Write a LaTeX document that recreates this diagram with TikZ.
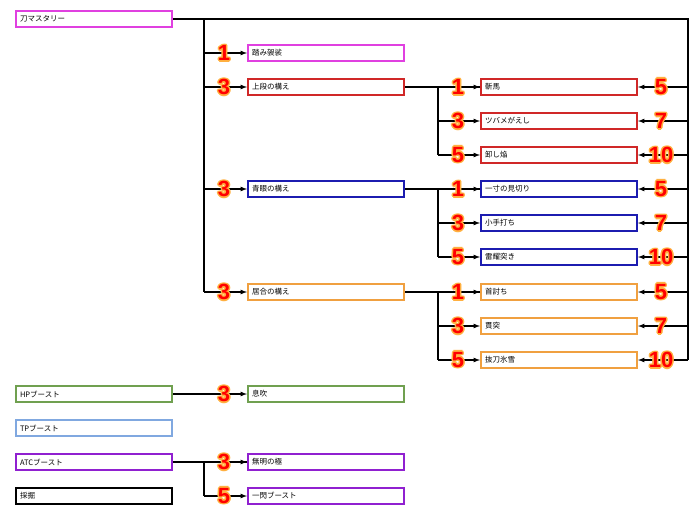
\documentclass[tikz,border=0pt]{standalone}
\usepackage{fontspec}
\setmainfont{Noto Sans CJK JP}
\newfontfamily\numfont{Liberation Sans}
\begin{document}
\begin{tikzpicture}[x=1pt,y=-1pt,
 box/.style={draw=#1,line width=2pt,minimum width=156pt,minimum height=16pt,text width=148pt,align=left,inner sep=3pt,font=\fontsize{7.5}{8}\selectfont,anchor=west,fill=white},
 arr/.style={-latex,line width=1.2pt},
 ln/.style={line width=1.2pt}]
\definecolor{cm}{HTML}{E040E0}\definecolor{cr}{HTML}{D02828}\definecolor{cb}{HTML}{1C1CB0}
\definecolor{co}{HTML}{F0A040}\definecolor{cg}{HTML}{70A050}\definecolor{cl}{HTML}{80A8E0}
\definecolor{cp}{HTML}{9020D0}\definecolor{nout}{HTML}{FFB040}
\newcommand\numat[2]{%
 \foreach \dx/\dy in {-1.5/0,1.5/0,0/-1.5,0/1.5,-1.1/-1.1,1.1/1.1,-1.1/1.1,1.1/-1.1}{\node[font=\numfont\bfseries\fontsize{22}{22}\selectfont,text=nout,inner sep=0] at ([shift={(\dx,\dy)}]#1) {#2};}%
 \node[font=\numfont\bfseries\fontsize{22}{22}\selectfont,text=red,inner sep=0] at (#1) {#2};}
\useasboundingbox (0,0) rectangle (700,519);
\node[box=cm] (root) at (15,19) {刀マスタリー};
\node[box=cm] (fumi) at (247,53) {踏み袈裟};
\node[box=cr] (jo) at (247,87) {上段の構え};
\node[box=cb] (sei) at (247,189) {青眼の構え};
\node[box=co] (iai) at (247,292) {居合の構え};
\node[box=cr] (a1) at (480,87) {斬馬};
\node[box=cr] (a2) at (480,121) {ツバメがえし};
\node[box=cr] (a3) at (480,155) {卸し焔};
\node[box=cb] (b1) at (480,189) {一寸の見切り};
\node[box=cb] (b2) at (480,223) {小手打ち};
\node[box=cb] (b3) at (480,257) {雷耀突き};
\node[box=co] (c1) at (480,292) {首討ち};
\node[box=co] (c2) at (480,326) {貫突};
\node[box=co] (c3) at (480,360) {抜刀氷雪};
\node[box=cg] (hp) at (15,394) {HPブースト};
\node[box=cl] (tp) at (15,428) {TPブースト};
\node[box=cp] (atc) at (15,462) {ATCブースト};
\node[box=black] (sai) at (15,496) {採掘};
\node[box=cg] (ibu) at (247,394) {息吹};
\node[box=cp] (mu) at (247,462) {無明の極};
\node[box=cp] (is) at (247,496) {一閃ブースト};
\coordinate (tx) at (204,19);
\coordinate (rx) at (688,19);
\coordinate (mx) at (438,87);
\coordinate (ax) at (204,462);
\draw[ln] (root.east) -- (rx) -- (rx |- c3.east);
\draw[ln] (tx) -- (tx |- iai.west);
\foreach \n in {fumi,jo,sei,iai} \draw[arr] (tx |- \n.west) -- (\n.west);
\foreach \p/\a/\b/\c in {jo/a1/a2/a3,sei/b1/b2/b3,iai/c1/c2/c3}{
 \draw[ln] (\p.east) -- (\a.west);
 \draw[ln] (mx |- \a.west) -- (mx |- \c.west);
 \foreach \n in {\a,\b,\c}{\draw[arr] (mx |- \n.west) -- (\n.west);\draw[arr] (rx |- \n.east) -- (\n.east);}
}
\draw[arr] (hp.east) -- (ibu.west);
\draw[ln] (atc.east) -- (mu.west);
\draw[ln] (ax) -- (ax |- is.west);
\draw[arr] (ax |- mu.west) -- (mu.west);
\draw[arr] (ax |- is.west) -- (is.west);
\numat{224,53}{1}\numat{224,87}{3}\numat{224,189}{3}\numat{224,292}{3}
\foreach \y in {87,189,292}{\numat{458,\y}{1}}
\foreach \y in {121,223,326}{\numat{458,\y}{3}}
\foreach \y in {155,257,360}{\numat{458,\y}{5}}
\foreach \y in {87,189,292}{\numat{661,\y}{5}}
\foreach \y in {121,223,326}{\numat{661,\y}{7}}
\foreach \y in {155,257,360}{\numat{661,\y}{10}}
\numat{224,394}{3}\numat{224,462}{3}\numat{224,496}{5}
\end{tikzpicture}
\end{document}
